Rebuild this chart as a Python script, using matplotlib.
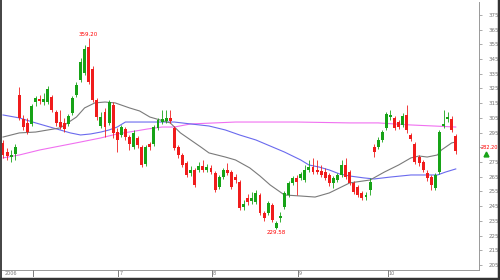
import numpy as np
import matplotlib
matplotlib.use("Agg")
import matplotlib.pyplot as plt
from matplotlib.lines import Line2D

# daily candles
opens = [288.0, 281.8, 278.4, 280.5, 320.6, 304.3, 301.6, 300.9, 315.8, 317.9,
         315.8, 315.8, 319.2, 309.0, 302.2, 301.6, 300.9, 308.4, 320.6, 330.8,
         335.6, 353.2, 338.3, 317.2, 299.5, 309.0, 301.6, 313.8, 295.4, 293.4,
         297.5, 292.0, 285.2, 291.4, 285.2, 273.7, 287.3, 287.3, 298.2, 302.2,
         302.9, 305.0, 298.2, 285.2, 279.8, 274.4, 267.6, 269.6, 269.6, 272.3,
         269.6, 271.0, 267.6, 258.0, 264.8, 269.6, 268.2, 264.8, 261.4, 244.4,
         250.6, 248.5, 247.8, 252.6, 240.4, 240.4, 245.8, 230.2, 237.0, 244.4,
         252.6, 260.8, 264.2, 264.2, 262.8, 269.6, 271.6, 269.6, 268.9, 268.2,
         266.2, 260.8, 262.8, 266.2, 273.0, 268.2, 260.8, 258.0, 254.0, 251.2,
         256.0, 285.2, 285.2, 290.0, 298.2, 305.6, 305.0, 302.2, 300.2, 307.0,
         293.4, 287.3, 278.4, 275.0, 267.6, 264.8, 257.4, 268.2, 299.5, 304.3,
         304.3, 292.9]
highs = [290.0, 284.6, 283.2, 287.3, 326.0, 307.0, 305.0, 314.5, 319.9, 320.6,
         322.0, 326.7, 320.6, 310.4, 310.4, 305.0, 307.7, 319.9, 329.4, 345.8,
         354.6, 359.2, 340.3, 318.6, 309.0, 311.8, 317.2, 315.8, 298.2, 300.2,
         298.8, 293.4, 296.8, 292.7, 286.6, 286.6, 288.6, 300.2, 305.0, 310.4,
         310.4, 310.4, 299.5, 286.6, 281.2, 275.7, 272.3, 271.0, 275.0, 276.4,
         273.7, 273.0, 268.9, 266.2, 271.0, 274.4, 269.6, 266.9, 262.8, 249.2,
         253.3, 254.6, 256.0, 254.0, 241.7, 248.5, 247.2, 234.9, 241.0, 255.3,
         262.1, 265.5, 266.2, 268.2, 273.0, 276.4, 277.8, 276.4, 273.0, 271.0,
         267.6, 265.5, 267.6, 276.4, 277.8, 269.6, 262.1, 259.4, 255.3, 254.6,
         264.2, 287.3, 292.0, 296.8, 309.0, 310.4, 306.3, 303.6, 308.4, 313.8,
         294.8, 288.6, 279.8, 276.4, 269.6, 266.2, 267.6, 296.8, 310.4, 309.0,
         306.3, 294.1]
lows = [277.8, 276.4, 275.0, 276.4, 303.6, 296.8, 294.1, 299.5, 313.1, 314.5,
        313.8, 314.5, 309.0, 299.5, 297.5, 295.4, 299.5, 307.0, 319.2, 329.4,
        334.2, 328.1, 315.8, 303.6, 298.2, 292.0, 300.2, 291.4, 281.8, 292.0,
        290.0, 283.2, 283.9, 284.6, 271.6, 272.3, 283.2, 285.9, 296.8, 300.9,
        301.6, 301.6, 283.2, 277.8, 271.6, 264.8, 265.5, 258.0, 268.2, 268.2,
        268.2, 266.9, 254.6, 256.7, 263.5, 266.2, 256.7, 260.8, 242.4, 242.4,
        245.8, 246.5, 246.5, 239.0, 234.9, 239.0, 234.2, 229.58, 234.2, 243.1,
        251.2, 259.4, 252.6, 262.8, 261.4, 268.2, 266.9, 266.9, 264.8, 262.8,
        258.7, 257.4, 261.4, 264.8, 263.5, 259.4, 253.3, 251.2, 249.2, 249.2,
        252.6, 278.4, 283.9, 288.6, 296.8, 303.6, 296.8, 297.5, 298.8, 294.8,
        289.3, 273.7, 272.3, 268.2, 262.1, 256.0, 256.0, 266.9, 298.2, 302.2,
        295.4, 280.5]
closes = [279.8, 279.1, 279.8, 285.2, 305.0, 298.8, 295.4, 313.1, 318.6, 316.5,
          317.9, 324.7, 310.4, 301.6, 298.8, 297.5, 306.3, 318.6, 327.4, 343.0,
          351.9, 329.4, 317.2, 305.6, 305.6, 298.8, 315.8, 294.8, 290.0, 298.8,
          292.0, 287.3, 294.8, 286.6, 273.0, 285.2, 285.2, 298.8, 303.6, 304.3,
          305.0, 302.9, 284.6, 279.8, 273.0, 266.2, 269.6, 259.4, 272.3, 269.6,
          271.6, 268.2, 256.0, 264.8, 269.6, 267.6, 258.0, 262.8, 243.8, 246.5,
          247.8, 250.6, 254.0, 240.4, 237.0, 247.2, 235.6, 233.6, 238.3, 254.0,
          260.8, 264.2, 261.4, 266.9, 269.6, 271.6, 268.2, 268.2, 266.2, 264.2,
          260.8, 264.2, 266.2, 273.0, 264.8, 260.8, 254.6, 252.6, 250.6, 252.6,
          261.4, 281.8, 290.0, 295.4, 307.7, 307.0, 298.2, 298.8, 306.3, 296.8,
          290.7, 275.0, 274.4, 269.6, 264.2, 259.4, 266.2, 295.4, 300.9, 305.6,
          296.8, 282.2]

# moving averages, sampled along the lines (candle index, price)
ma_short_idx = [0, 4, 8, 14, 18, 20, 22.5, 25, 27.5, 31, 33.5, 36, 38.5, 41, 43.5,
                46, 48.5, 50.5, 54.5, 57, 60.5, 63, 65.5, 69, 73, 76.5, 80, 82.5,
                85, 90, 93.5, 97, 100, 102, 104, 106.5, 107.5, 110, 111]
ma_short = [292.0, 294.8, 295.4, 298.2, 305.6, 311.8, 315.2, 315.8, 315.2, 311.8,
            309.7, 305.6, 303.6, 301.6, 294.8, 290.0, 285.2, 281.2, 278.4, 276.4,
            271.0, 265.5, 259.4, 252.6, 251.9, 251.2, 254.0, 257.4, 260.8, 262.8,
            268.2, 273.0, 277.8, 279.1, 278.4, 279.8, 283.2, 288.0, 288.6]
ma_mid_idx = [0, 4, 8, 11.5, 14, 16.5, 19, 21.5, 24, 26, 28, 30, 34, 38.5, 42, 46,
              50.5, 54.5, 58, 62, 65.5, 69, 73, 75, 77.5, 80, 82.5, 85, 88.5, 91,
              95, 100, 103.5, 106.5, 108.5, 111]
ma_mid = [307.0, 305.0, 301.6, 298.8, 296.8, 294.8, 293.4, 294.1, 295.4, 296.8,
          298.8, 302.2, 302.2, 302.2, 302.2, 300.9, 299.5, 296.8, 293.4, 290.0,
          285.9, 281.8, 276.4, 273.0, 271.6, 269.6, 266.9, 265.5, 264.2, 263.5,
          264.8, 266.2, 266.2, 266.2, 268.2, 270.3]
ma_long_idx = [0, 4, 9, 14, 19, 24, 28, 32.5, 35.5, 39, 42, 46, 52, 57, 62, 72,
               85, 92, 100, 108, 111]
ma_long = [277.8, 279.8, 283.2, 285.9, 288.6, 291.4, 294.1, 296.1, 297.5, 298.8,
           298.8, 300.9, 301.6, 302.2, 302.2, 302.2, 301.6, 301.6, 300.2, 299.2,
           298.8]

month_start = [7, 28, 51, 72, 94]
month_labels = ["", "7", "8", "9", "10"]
year_label = "2006"
y_ticks = list(range(205, 376, 10))
hi_label = "359.20"
lo_label = "229.58"
last_label = "282.20"

UP = "#17a317"
DOWN = "#f01c1c"
x = np.arange(len(opens))
Y0, Y1 = 201.6, 383.8

fig = plt.figure(figsize=(5, 2.8), dpi=100)
ax = fig.add_axes([2 / 500, 10 / 280, 477 / 500, 268 / 280])

o = np.array(opens)
c = np.array(closes)
col = [UP if cc >= oo else DOWN for oo, cc in zip(o, c)]
ax.vlines(x, lows, highs, colors=col, linewidth=0.6, zorder=2)
body = np.maximum(np.abs(c - o), 0.5)
ax.bar(x, body, bottom=np.minimum(o, c), width=0.72, color=col,
       linewidth=0, zorder=3)

ax.plot(ma_long_idx, ma_long, color="#f070f0", lw=0.8, zorder=1)
ax.plot(ma_mid_idx, ma_mid, color="#6a6aee", lw=0.8, zorder=1)
ax.plot(ma_short_idx, ma_short, color="#7a7a7a", lw=0.8, zorder=1)

ax.set_xlim(-0.25, 116.7)
ax.set_ylim(Y0, Y1)

ihi = int(np.argmax(highs))
ilo = int(np.argmin(lows))
ax.text(ihi, highs[ihi] + 0.8, hi_label, color="red", fontsize=4,
        ha="center", va="bottom")
ax.text(ilo, lows[ilo] - 1.0, lo_label, color="red", fontsize=4,
        ha="center", va="top")

for s in ["left", "top"]:
    ax.spines[s].set_visible(False)
for s in ["right", "bottom"]:
    ax.spines[s].set_color("#999999")
    ax.spines[s].set_linewidth(0.7)
ax.set_xticks([])
ax.yaxis.tick_right()
ax.set_yticks(y_ticks)
# the 285 label sits under the last-price tag
ax.set_yticklabels(["" if v == 285 else str(v) for v in y_ticks])
ax.tick_params(axis="y", length=2, width=0.5, color="#888888", pad=5,
               labelsize=4, labelcolor="#777777")

# last price tag on the right axis
ax.text(1.003, (closes[-1] + 3 - Y0) / (Y1 - Y0), last_label,
        transform=ax.transAxes, color="red", fontsize=3.6, ha="left",
        va="center", zorder=5, clip_on=False)
ax.plot([1.015], [(closes[-1] - 2 - Y0) / (Y1 - Y0)], marker="^",
        color=UP, ms=3.5, transform=ax.transAxes, clip_on=False)

# date strip
ax2 = fig.add_axes([2 / 500, 3 / 280, 477 / 500, 7 / 280])
ax2.set_xlim(-0.25, 116.7)
ax2.set_ylim(0, 1)
ax2.axis("off")
ax2.text(0.3, 0.45, year_label, fontsize=3.5, color="#777777", va="center")
for m, lab in zip(month_start, month_labels):
    ax2.vlines(m + 0.3, 0, 1, color="#666666", lw=0.6)
    ax2.text(m + 0.5, 0.45, lab, fontsize=3.5, color="#777777", va="center")

# outer frame
fig.add_artist(Line2D([0.5 / 500, 0.5 / 500], [0, 1], color="#222222", lw=1.2))
fig.add_artist(Line2D([0, 1], [1.5 / 280, 1.5 / 280], color="#333333", lw=2.5))
fig.add_artist(Line2D([498.5 / 500, 498.5 / 500], [0, 1], color="#333333", lw=2.5))

fig.savefig("out.png", dpi=100)
